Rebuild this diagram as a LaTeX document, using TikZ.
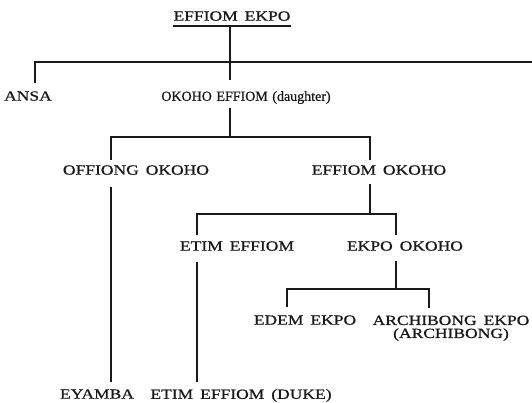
\documentclass[tikz,border=0pt]{standalone}
\usepackage{fontspec}
\setmainfont{Liberation Serif}[FakeStretch=1.25,WordSpace=1.6,FakeBold=0.8]
\newfontfamily\narrowserif{Liberation Serif}[WordSpace=1.3,FakeBold=0.8]
\definecolor{cink}{RGB}{25,25,25}

\begin{document}
\begin{tikzpicture}[x=1pt,y=-1pt,
        person/.style={font=\fontsize{14}{13}\selectfont,text=cink,inner sep=0pt,text depth=0pt,align=center},
        narrowperson/.style={font=\narrowserif\fontsize{14}{13}\selectfont,text=cink,inner sep=0pt,text depth=0pt},
        link/.style={draw=cink,line width=1.7pt}]
      \useasboundingbox (0,0) rectangle (532,402);
      \foreach \id/\x/\y/\lab in {ekpo/232/16/EFFIOM EKPO, ansa/28/96/ANSA,
          offiong/136/170/OFFIONG OKOHO, effokoho/379/170/EFFIOM OKOHO,
          etim/237/246/ETIM EFFIOM, ekpookoho/405/246/EKPO OKOHO,
          edem/305/320/EDEM EKPO, eyamba/97/394/EYAMBA, duke/241/394/ETIM EFFIOM (DUKE)}
        \node[person] (\id) at (\x,\y) {\lab};
      \node[narrowperson] (okoho) at (246,96) {OKOHO EFFIOM (daughter)};
      \node[person,anchor=north] (archibong) at (451,315.5) {ARCHIBONG EKPO\\(ARCHIBONG)};
      \coordinate (stub) at (532,62);
      \coordinate (fork1) at (230,62);
      \coordinate (fork2) at (230,137);
      \coordinate (fork3) at (370,214);
      \coordinate (fork4) at (396,289);
      % underline of the head
      \draw[link] ([yshift=-5pt]ekpo.south west) -- ([yshift=-5pt]ekpo.south east);
      % first generation
      \draw[link] ([yshift=-5pt]ekpo.south -| fork1) -- ([yshift=11pt]okoho.north -| fork1);
      \draw[link] ([xshift=7pt,yshift=8pt]ansa.north) |- (stub);
      % second generation
      \draw[link] ([yshift=-7pt]okoho.south -| fork2) -- (fork2);
      \draw[link] ([xshift=-25pt,yshift=5pt]offiong.north) |- (fork2) -| ([xshift=-9pt,yshift=5pt]effokoho.north);
      \draw[link] ([xshift=-25pt,yshift=-12pt]offiong.south) -- ([xshift=14pt,yshift=7pt]eyamba.north);
      % third generation
      \draw[link] ([yshift=-9pt]effokoho.south -| fork3) -- (fork3);
      \draw[link] ([xshift=-40pt,yshift=6pt]etim.north) |- (fork3) -| ([xshift=-9pt,yshift=6pt]ekpookoho.north);
      \draw[link] ([xshift=-40pt,yshift=-11pt]etim.south) -- ([xshift=-44pt,yshift=7pt]duke.north);
      % fourth generation
      \draw[link] ([yshift=-10pt]ekpookoho.south -| fork4) -- (fork4);
      \draw[link] ([xshift=-18pt,yshift=8pt]edem.north) |- (fork4) -| ([xshift=-22pt,yshift=8pt]archibong.north);
    \end{tikzpicture}
\end{document}
